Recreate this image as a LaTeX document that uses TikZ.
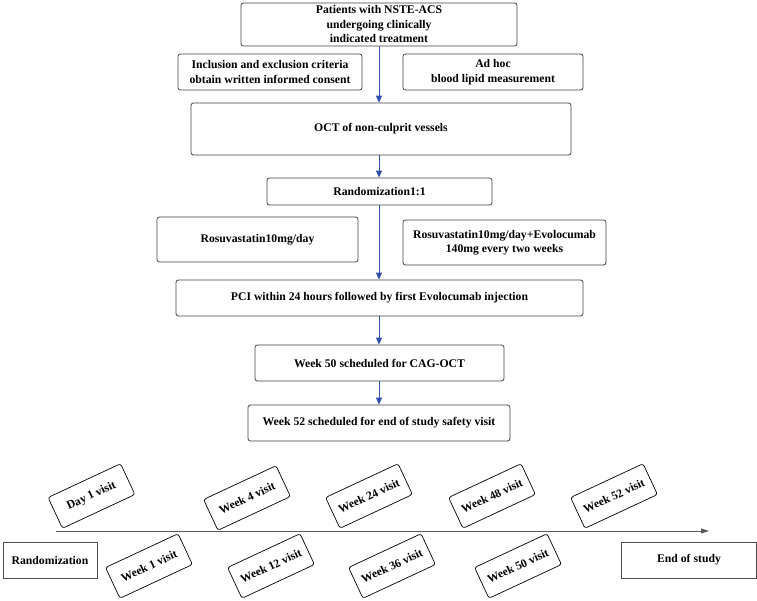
\documentclass[tikz,border=0pt]{standalone}
\usepackage{fontspec}
\setmainfont{Liberation Serif}
\usetikzlibrary{arrows.meta}
\begin{document}
\begin{tikzpicture}[x=1pt, y=-1pt,
    flowbox/.style={draw=black!75, rounded corners=2.5pt, line width=0.8pt, align=center,
      inner sep=0pt, font=\fontsize{11.7}{14.5}\selectfont\bfseries},
    endbox/.style={draw=black!70, line width=0.9pt, align=center, inner sep=0pt,
      font=\fontsize{11.7}{14}\selectfont\bfseries},
    visitbox/.style={draw=black, rounded corners=2.5pt, line width=0.7pt, rotate=25,
      minimum width=80pt, minimum height=34pt, inner sep=0pt,
      font=\fontsize{11.7}{14}\selectfont\bfseries},
    flowarrow/.style={-{Triangle[length=7pt,width=6pt]}, draw={rgb,255:red,47;green,79;blue,170}, line width=0.9pt}]
  \useasboundingbox (0,0) rectangle (757,601);
  % Flujo principal
  \node[flowbox, minimum width=276pt, minimum height=43pt] (pat) at (379,24.5)
    {Patients with NSTE-ACS\\undergoing clinically\\indicated treatment};
  \node[flowbox, minimum width=184pt, minimum height=36pt] (incl) at (270,72)
    {Inclusion and exclusion criteria\\obtain written informed consent};
  \node[flowbox, minimum width=180pt, minimum height=36pt] (adhoc) at (493,72)
    {Ad hoc\\blood lipid measurement};
  \node[flowbox, minimum width=380pt, minimum height=52pt] (oct) at (381,129)
    {OCT of non-culprit vessels};
  \node[flowbox, minimum width=225pt, minimum height=27pt] (rand) at (379.5,191.5)
    {Randomization1:1};
  \node[flowbox, minimum width=201pt, minimum height=45pt] (rosu) at (257.5,239.5)
    {Rosuvastatin10mg/day};
  \node[flowbox, minimum width=203pt, minimum height=45pt] (evo) at (504.5,242.5)
    {Rosuvastatin10mg/day+Evolocumab\\140mg every two weeks};
  \node[flowbox, minimum width=407pt, minimum height=36pt] (pci) at (379.5,298)
    {PCI within 24 hours followed by first Evolocumab injection};
  \node[flowbox, minimum width=249pt, minimum height=36pt] (wk50) at (379.5,363)
    {Week 50 scheduled for CAG-OCT};
  \node[flowbox, minimum width=262pt, minimum height=36pt] (wk52) at (379,423)
    {Week 52 scheduled for end of study safety visit};
  % Flechas
  \draw[flowarrow] (pat.south) -- (pat.south |- oct.north);
  \draw[flowarrow] (pat.south |- oct.south) -- (pat.south |- rand.north);
  \draw[flowarrow] (pat.south |- rand.south) -- (pat.south |- pci.north);
  \draw[flowarrow] (pat.south |- pci.south) -- (pat.south |- wk50.north);
  \draw[flowarrow] (pat.south |- wk50.south) -- (pat.south |- wk52.north);
  % Linea de tiempo
  \coordinate (t0) at (56,531);
  \coordinate (t1) at (709,531);
  \draw[black!65, line width=1pt, -{Triangle[length=8pt,width=5pt]}] (t0) -- (t1);
  \node[endbox, minimum width=94pt, minimum height=36pt] (start) at (50,560) {Randomization};
  \node[endbox, minimum width=135pt, minimum height=36pt] (finish) at (689,560) {End of study};
  % Visitas
  \foreach \x/\y/\txt [count=\i] in {91.5/496/Day 1 visit, 247/498/Week 4 visit,
      369/496/Week 24 visit, 492/496/Week 48 visit, 614/496/Week 52 visit,
      149/566/Week 1 visit, 271/566/Week 12 visit, 392/566/Week 36 visit,
      518/566/Week 50 visit}
    \node[visitbox] (v\i) at (\x,\y) {\txt};
\end{tikzpicture}
\end{document}
